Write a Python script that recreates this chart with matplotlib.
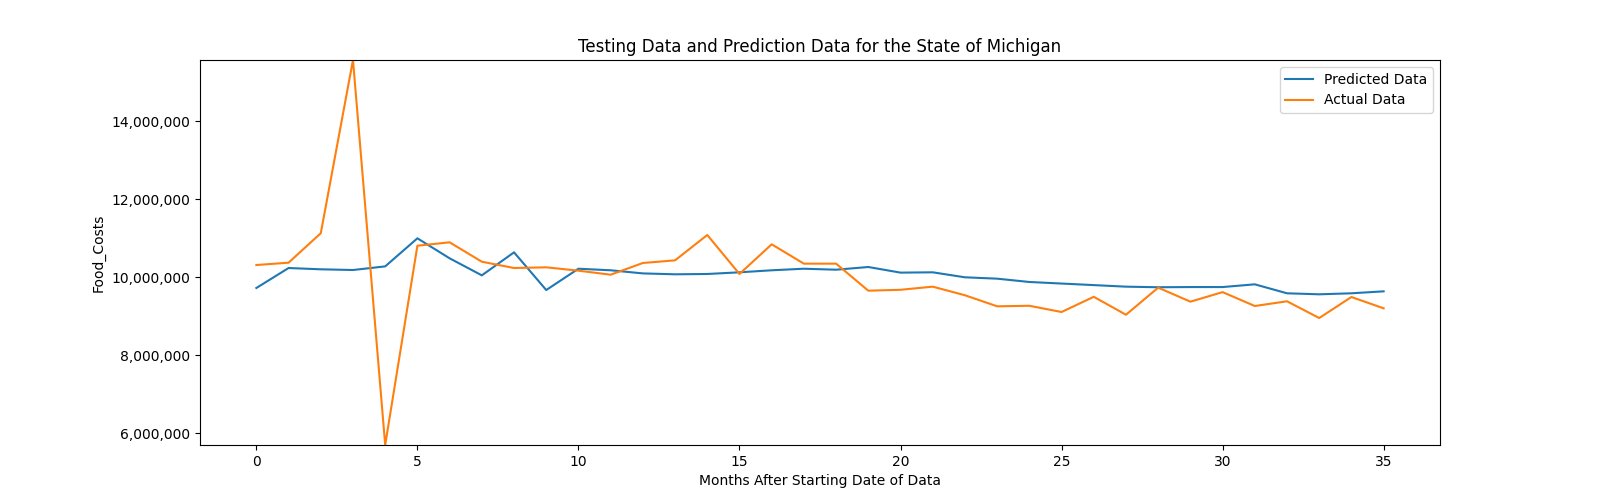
import matplotlib
matplotlib.use("Agg")
import matplotlib.pyplot as plt
import matplotlib.ticker as mticker
import numpy as np

months = list(range(36))
predicted = [9.726, 10.238, 10.205, 10.187, 10.28, 11.0, 10.487, 10.05, 10.64, 9.674,
             10.22, 10.18, 10.10, 10.077, 10.085, 10.128, 10.18, 10.22, 10.195, 10.264,
             10.12, 10.128, 10.0, 9.965, 9.88, 9.84, 9.80, 9.76, 9.745, 9.75,
             9.75, 9.82, 9.59, 9.564, 9.59, 9.64]
actual = [10.315, 10.375, 11.13, 15.572, 5.70, 10.81, 10.897, 10.40, 10.238, 10.256,
          10.17, 10.067, 10.367, 10.435, 11.085, 10.085, 10.846, 10.35, 10.35, 9.657,
          9.68, 9.76, 9.54, 9.256, 9.27, 9.11, 9.50, 9.04, 9.735, 9.375,
          9.62, 9.264, 9.385, 8.956, 9.495, 9.205]
predicted = [v * 1e6 for v in predicted]
actual = [v * 1e6 for v in actual]

fig, ax = plt.subplots(figsize=(16, 5), dpi=100)
ax.plot(months, predicted, label="Predicted Data")
ax.plot(months, actual, label="Actual Data")
ax.set_ylim(min(actual), max(actual))
ax.yaxis.set_major_formatter(mticker.FuncFormatter(lambda v, p: f"{v:,.0f}"))
ax.set_title("Testing Data and Prediction Data for the State of Michigan")
ax.set_xlabel("Months After Starting Date of Data")
ax.set_ylabel("Food_Costs")
ax.legend(loc="upper right")
fig.savefig("out.png")
